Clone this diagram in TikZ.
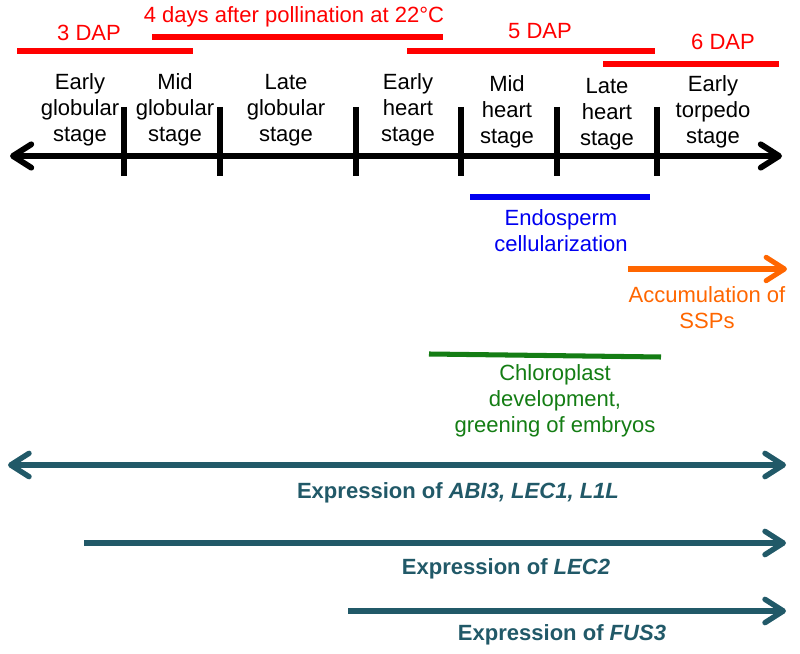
\documentclass[tikz,border=0pt]{standalone}
\usepackage{fontspec}
\setmainfont{Liberation Sans}
\usepackage{xcolor}
\usetikzlibrary{arrows.meta}
\definecolor{dapred}{RGB}{255, 0, 0}
\definecolor{endoblue}{RGB}{0, 0, 240}
\definecolor{ssporange}{RGB}{255, 102, 0}
\definecolor{chlorogreen}{RGB}{20, 125, 20}
\definecolor{genteal}{RGB}{33, 89, 104}

\tikzset{
  >={Straight Barb[length=5.5mm, width=7mm, round]},
  txt/.style={align=center, inner sep=0pt, font=\fontsize{18.8}{22.2}\selectfont},
  gentxt/.style={txt, text=genteal, font=\fontsize{18.8}{22.2}\selectfont\bfseries},
  dapline/.style={draw=dapred, line width=4.3pt},
  genarrow/.style={draw=genteal, line width=4.6pt, ->}
}

\begin{document}
\begin{tikzpicture}[x=0.03cm, y=-0.03cm]
  \useasboundingbox (0,0) rectangle (800,654);

  % days after pollination
  \coordinate (d3a) at (17,51);  \coordinate (d3b) at (193,51);
  \coordinate (d4a) at (152,37); \coordinate (d4b) at (443,37);
  \coordinate (d5a) at (407,51); \coordinate (d5b) at (655,51);
  \coordinate (d6a) at (603,64); \coordinate (d6b) at (779,64);
  \draw[dapline] (d3a) -- (d3b);
  \draw[dapline] (d4a) -- (d4b);
  \draw[dapline] (d5a) -- (d5b);
  \draw[dapline] (d6a) -- (d6b);
  \node[txt, text=dapred] (dap3) at (89,33) {3 DAP};
  \node[txt, text=dapred] (dap4) at (294,17) {4 days after pollination at 22°C};
  \node[txt, text=dapred] (dap5) at (540,31) {5 DAP};
  \node[txt, text=dapred] (dap6) at (723,42) {6 DAP};

  % time axis with stages
  \coordinate (axisL) at (10,156);
  \coordinate (axisR) at (782,156);
  \draw[line width=5pt, <->] (axisL) -- (axisR);
  \foreach \x [count=\i] in {124,220,356,461,557,657}
    \draw[line width=5pt] (\x,107) coordinate (tick\i) -- (\x,176);

  \node[txt] (eglob) at (80,110)  {Early\\globular\\stage};
  \node[txt] (mglob) at (175,110) {Mid\\globular\\stage};
  \node[txt] (lglob) at (286,110) {Late\\globular\\stage};
  \node[txt] (ehrt)  at (408,110) {Early\\heart\\stage};
  \node[txt] (mhrt)  at (507,112) {Mid\\heart\\stage};
  \node[txt] (lhrt)  at (607,114) {Late\\heart\\stage};
  \node[txt] (etorp) at (713,112) {Early\\torpedo\\stage};

  % endosperm
  \coordinate (endoa) at (470,197); \coordinate (endob) at (650,197);
  \draw[endoblue, line width=4.3pt] (endoa) -- (endob);
  \node[txt, text=endoblue] (endo) at (561,231) {Endosperm\\cellularization};

  % storage proteins
  \coordinate (sspa) at (628,269); \coordinate (sspb) at (787,269);
  \draw[ssporange, line width=4.3pt, ->] (sspa) -- (sspb);
  \node[txt, text=ssporange] (ssp) at (707,308) {Accumulation of\\SSPs};

  % chloroplasts
  \coordinate (chla) at (429,354); \coordinate (chlb) at (661,357);
  \draw[chlorogreen, line width=4.3pt] (chla) -- (chlb);
  \node[txt, text=chlorogreen] (chl) at (555,401) {Chloroplast\\development,\\greening of embryos};

  % gene expression
  \coordinate (abiL) at (8,465);   \coordinate (abiR) at (786,465);
  \coordinate (lec2L) at (84,543); \coordinate (lec2R) at (786,543);
  \coordinate (fusL) at (348,611); \coordinate (fusR) at (786,611);
  \draw[genarrow, <->] (abiL) -- (abiR);
  \draw[genarrow] (lec2L) -- (lec2R);
  \draw[genarrow] (fusL) -- (fusR);
  \node[gentxt] (abi) at (458,493) {Expression of \textit{ABI3, LEC1, L1L}};
  \node[gentxt] (lec2) at (506,569) {Expression of \textit{LEC2}};
  \node[gentxt] (fus) at (562,635) {Expression of \textit{FUS3}};
\end{tikzpicture}
\end{document}
